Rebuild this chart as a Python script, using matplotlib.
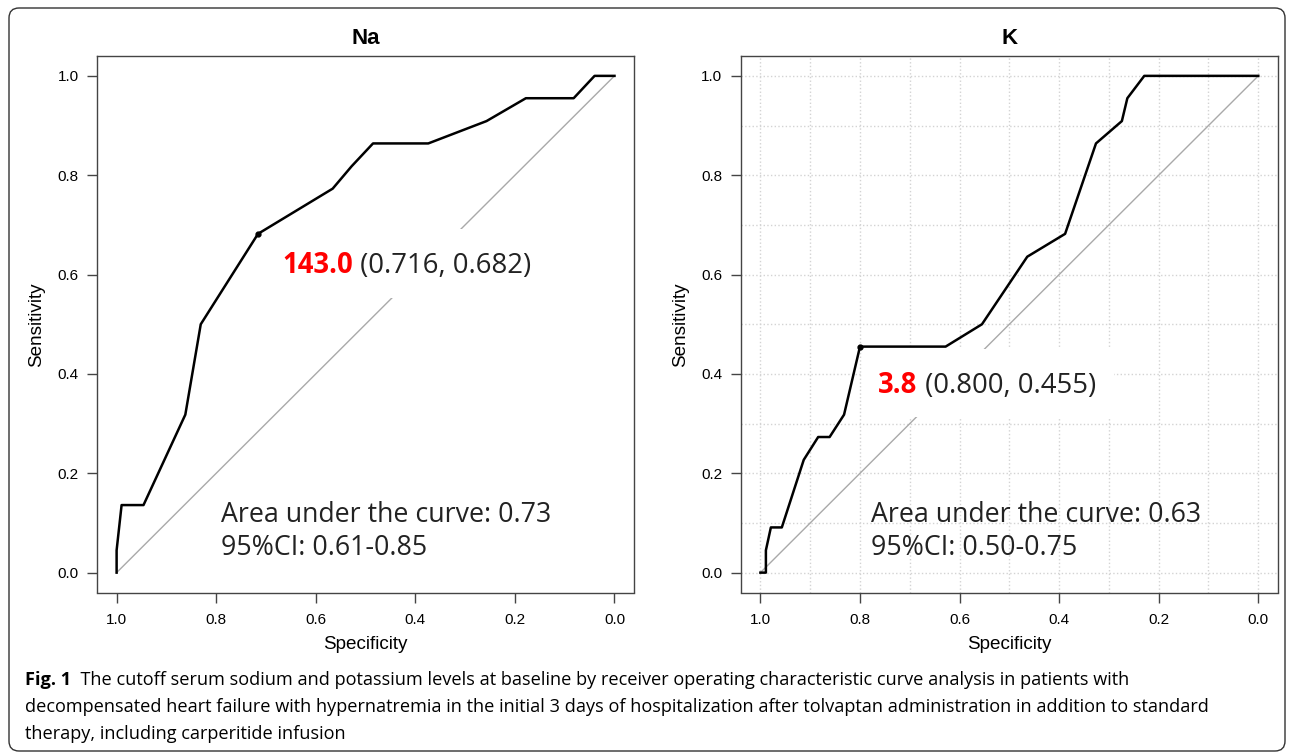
import numpy as np
import matplotlib.pyplot as plt
from matplotlib.patches import Rectangle, FancyBboxPatch

# ROC curve points (specificity, sensitivity)
na_spec = [1.0, 1.0, 0.990, 0.946, 0.862, 0.831, 0.716, 0.566, 0.528, 0.485, 0.374, 0.257, 0.178, 0.082, 0.040, 0.0]
na_sens = [0.0, 0.045, 0.136, 0.136, 0.318, 0.500, 0.682, 0.773, 0.818, 0.864, 0.864, 0.909, 0.955, 0.955, 1.0, 1.0]

k_spec = [1.0, 0.989, 0.989, 0.979, 0.957, 0.913, 0.884, 0.861, 0.832, 0.800, 0.628, 0.555, 0.464, 0.388,
          0.326, 0.274, 0.263, 0.229, 0.0]
k_sens = [0.0, 0.0, 0.045, 0.091, 0.091, 0.227, 0.273, 0.273, 0.318, 0.455, 0.455, 0.500, 0.636, 0.682,
          0.864, 0.909, 0.955, 1.0, 1.0]

titles = ['Na', 'K']
cutoffs = [(0.716, 0.682), (0.800, 0.455)]
cutoff_values = ['143.0', '3.8']
cutoff_coords = ['(0.716, 0.682)', '(0.800, 0.455)']
auc_lines = ['Area under the curve: 0.73', 'Area under the curve: 0.63']
ci_lines = ['95%CI: 0.61-0.85', '95%CI: 0.50-0.75']

caption_lines = [
    'The cutoff serum sodium and potassium levels at baseline by receiver operating characteristic curve analysis in patients with',
    'decompensated heart failure with hypernatremia in the initial 3 days of hospitalization after tolvaptan administration in addition to standard',
    'therapy, including carperitide infusion',
]

plt.rcParams['font.family'] = ['Liberation Sans', 'DejaVu Sans']
note_font = ['Open Sans', 'DejaVu Sans']
cap_font = ['Open Sans', 'DejaVu Sans']

W, H = 1292, 755
fig = plt.figure(figsize=(W / 100, H / 100), dpi=100)

ax_w, ax_h = 537.7 / W, 536.5 / H
ax_b = (H - 592.5) / H
ax_na = fig.add_axes([96.7 / W, ax_b, ax_w, ax_h])
ax_k = fig.add_axes([740.5 / W, ax_b, ax_w, ax_h])

# per-panel text/box placement (data coords)
label_xy = [(0.668, 0.604), (0.763, 0.361)]
auc_x = [0.790, 0.777]
boxes = [(0.135, 0.553, 0.701 - 0.135, 0.6925 - 0.553), (0.290, 0.313, 0.795 - 0.290, 0.450 - 0.313)]

series = [(na_spec, na_sens), (k_spec, k_sens)]

for i, ax in enumerate([ax_na, ax_k]):
    spec, sens = series[i]
    ax.set_xlim(1.04, -0.04)
    ax.set_ylim(-0.04, 1.04)
    ticks = np.arange(0, 1.01, 0.2)
    ax.set_xticks(ticks)
    ax.set_yticks(ticks)
    ax.set_xticklabels([f'{t:.1f}' for t in ticks])
    ax.set_yticklabels([f'{t:.1f}' for t in ticks])
    ax.tick_params(length=7, width=1, color='#444444', labelsize=11)
    ax.tick_params(axis='x', pad=8)
    ax.tick_params(axis='y', pad=6)
    for s in ax.spines.values():
        s.set_color('#444444')
        s.set_linewidth(1)

    if i == 1:
        minor = np.arange(0, 1.01, 0.1)
        ax.set_xticks(minor, minor=True)
        ax.set_yticks(minor, minor=True)
        ax.tick_params(which='minor', length=0)
        ax.grid(True, which='both', linestyle=':', color='#d3d3d3', linewidth=1, zorder=0)
        ax.set_axisbelow(True)

    ax.plot([1, 0], [0, 1], color='#a9a9a9', linewidth=1, zorder=1)
    bx, by, bw, bh = boxes[i]
    ax.add_patch(Rectangle((bx, by), bw, bh, facecolor='white', edgecolor='none', zorder=2))
    ax.plot(spec, sens, color='black', linewidth=1.8, zorder=3)
    ax.plot(*cutoffs[i], 'o', color='black', markersize=3.5, zorder=4)

    ax.set_title(titles[i], fontsize=16, fontweight='bold', pad=9)
    ax.set_xlabel('Specificity', fontsize=13.6, labelpad=6)
    ax.set_ylabel('Sensitivity', fontsize=13.6, labelpad=9)

    lx, ly = label_xy[i]
    t1 = ax.text(lx, ly, cutoff_values[i], color='#ff0000', fontsize=19.8, fontweight='bold',
                 family=note_font, va='baseline', zorder=5)
    ax.annotate(' ' + cutoff_coords[i], xy=(1, 0), xycoords=t1, va='bottom', ha='left',
                fontsize=19.8, family=note_font, color='#222222', zorder=5)
    ax.text(auc_x[i], 0.1016, auc_lines[i], fontsize=19.3, family=note_font,
            color='#222222', va='baseline', zorder=5)
    ax.text(auc_x[i], 0.036, ci_lines[i], fontsize=19.3, family=note_font,
            color='#222222', va='baseline', zorder=5)

# caption
cap_size = 13.1
cap_y = [(H - 685) / H, (H - 712) / H, (H - 739) / H]
fig_lbl = fig.text(25 / W, cap_y[0], 'Fig. 1', fontsize=cap_size, fontweight='bold',
                   family=cap_font, va='baseline')
fig.add_artist(plt.Annotation('  ' + caption_lines[0], xy=(1, 0), xycoords=fig_lbl, va='bottom', ha='left',
                              fontsize=cap_size, family=cap_font, annotation_clip=False))
for k in (1, 2):
    fig.text(25 / W, cap_y[k], caption_lines[k], fontsize=cap_size, family=cap_font, va='baseline')

# rounded frame around the whole figure
frame = FancyBboxPatch((9, 4), 1276, 743, boxstyle='round,pad=0,rounding_size=10',
                       facecolor='none', edgecolor='#333333', linewidth=1, transform=None)
fig.add_artist(frame)

fig.savefig('out.png', dpi=100)
